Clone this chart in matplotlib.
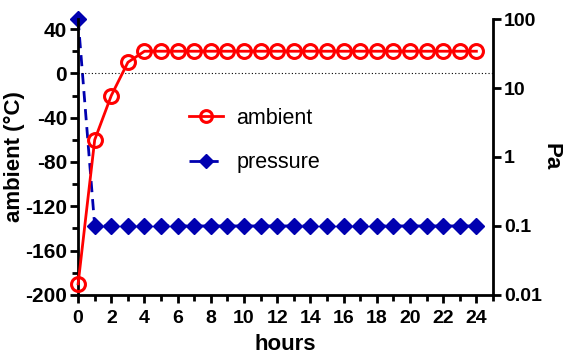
import matplotlib.pyplot as plt
from matplotlib.ticker import FixedLocator, NullLocator

plt.rcParams['font.family'] = ['Liberation Sans', 'DejaVu Sans']
plt.rcParams['axes.unicode_minus'] = False

hours = list(range(25))
ambient = [-190, -60, -20, 10] + [20] * 21
pressure = [100] + [0.1] * 24

fig = plt.figure(figsize=(5.66, 3.54), dpi=100)
ax = fig.add_axes([0.138, 0.167, 0.733, 0.779])
ax2 = ax.twinx()

red = "#ff0000"
blue = "#0000b0"

ax.axhline(0, color="black", linestyle=(0, (1, 2)), linewidth=0.8, zorder=1)
l1, = ax.plot(hours, ambient, color=red, linewidth=2, marker="o", markersize=10,
              markerfacecolor="none", markeredgewidth=2.2, label="ambient",
              zorder=3, clip_on=False)
l2, = ax2.plot(hours, pressure, color=blue, linewidth=2, linestyle=(0, (4, 2.5)),
               marker="D", markersize=8.5, label="pressure", zorder=2, clip_on=False)
ax.set_zorder(ax2.get_zorder() + 1)
ax.patch.set_visible(False)

ax.set_xlim(0, 25)
ax.set_ylim(-200, 49)
ax2.set_yscale("log")
ax2.set_ylim(0.01, 100)

ax.xaxis.set_major_locator(FixedLocator(range(0, 25, 2)))
ax.xaxis.set_minor_locator(FixedLocator(list(range(1, 26, 2))))
ax.yaxis.set_major_locator(FixedLocator([-200, -160, -120, -80, -40, 0, 40]))
ax.yaxis.set_minor_locator(FixedLocator([-180, -140, -100, -60, -20, 20]))
ax2.yaxis.set_major_locator(FixedLocator([0.01, 0.1, 1, 10, 100]))
ax2.yaxis.set_minor_locator(NullLocator())
ax2.set_yticklabels(["0.01", "0.1", "1", "10", "100"])

for a in (ax, ax2):
    a.spines["top"].set_visible(False)
    for s in ("left", "right", "bottom"):
        a.spines[s].set_linewidth(2)
    a.tick_params(which="major", length=6, width=2, labelsize=14, pad=2)
    a.tick_params(which="minor", length=4, width=2)
ax.tick_params(axis="y", labelsize=15)
ax.tick_params(axis="x", pad=5)
for a in (ax, ax2):
    for lab in a.get_xticklabels() + a.get_yticklabels():
        lab.set_fontweight("bold")
ax.spines["right"].set_visible(False)
ax2.spines["left"].set_visible(False)
ax2.spines["bottom"].set_visible(False)

ax.set_xlabel("hours", fontsize=16, fontweight="bold", labelpad=5)
ax.set_ylabel("ambient (°C)", fontsize=16, fontweight="bold", labelpad=0)
ax2.set_ylabel("Pa", fontsize=16, fontweight="bold", rotation=270, labelpad=14)

ax.legend(handles=[l1, l2], loc="center left", bbox_to_anchor=(0.22, 0.56), frameon=False,
          fontsize=15.5, handlelength=1.6, handletextpad=0.6, labelspacing=1.1,
          markerscale=0.85)

fig.savefig("out.png", dpi=100)
